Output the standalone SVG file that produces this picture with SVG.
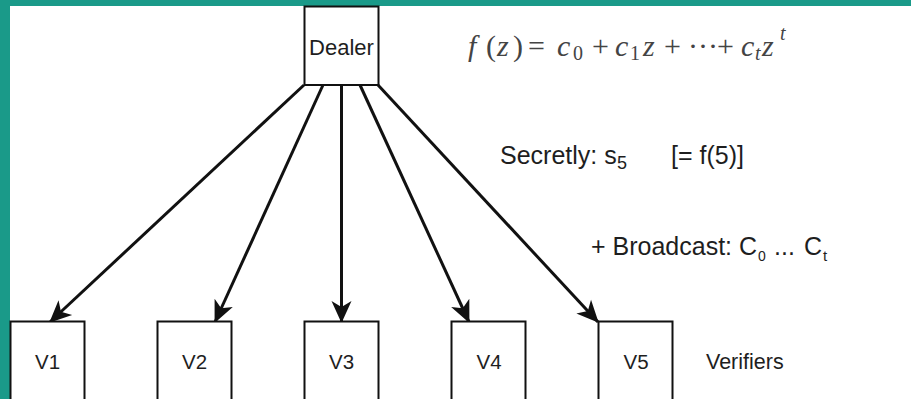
<svg xmlns="http://www.w3.org/2000/svg" width="911" height="399" viewBox="0 0 911 399">
  <style>
    .box { fill: #ffffff; stroke: #111111; stroke-width: 2; }
    .lbl { font-family: "Liberation Sans", Arial, sans-serif; fill: #1e1e1e; }
    .edge { stroke: #111111; stroke-width: 3; fill: none; marker-end: url(#arrow); }
    .math { font-family: "Liberation Serif", "Times New Roman", serif; fill: #444444; font-size: 30px; }
    .it { font-style: italic; }
    .sub { font-size: 20px; }
  </style>
  <defs>
    <marker id="arrow" markerUnits="userSpaceOnUse" viewBox="0 0 22 22" refX="21" refY="11" markerWidth="22" markerHeight="22" orient="auto">
      <path d="M0,1 L22,11 L0,21 L6,11 Z" fill="#111111"/>
    </marker>
  </defs>
  <rect x="0" y="0" width="911" height="399" fill="#ffffff"/>
  <rect x="0" y="0" width="911" height="6" fill="#1a9a89"/>
  <rect x="0" y="0" width="10" height="399" fill="#1a9a89"/>

  <g id="connectors">
    <line class="edge" x1="304" y1="85" x2="50" y2="322"/>
    <line class="edge" x1="323" y1="85" x2="215" y2="322"/>
    <line class="edge" x1="341.5" y1="85" x2="341.5" y2="322"/>
    <line class="edge" x1="360" y1="85" x2="469" y2="322"/>
    <line class="edge" x1="378" y1="85" x2="598" y2="322"/>
  </g>

  <g id="dealer">
    <rect class="box" x="304.5" y="6.5" width="74" height="78.5"/>
    <text class="lbl" x="341.5" y="55" font-size="22" text-anchor="middle">Dealer</text>
  </g>
  <g id="v1">
    <rect class="box" x="10.5" y="321.5" width="74" height="90"/>
    <text class="lbl" x="47.5" y="369" font-size="20.5" text-anchor="middle">V1</text>
  </g>
  <g id="v2">
    <rect class="box" x="157.5" y="321.5" width="74" height="90"/>
    <text class="lbl" x="194.5" y="369" font-size="20.5" text-anchor="middle">V2</text>
  </g>
  <g id="v3">
    <rect class="box" x="304.5" y="321.5" width="74" height="90"/>
    <text class="lbl" x="341.5" y="369" font-size="20.5" text-anchor="middle">V3</text>
  </g>
  <g id="v4">
    <rect class="box" x="451.5" y="321.5" width="74" height="90"/>
    <text class="lbl" x="489" y="369" font-size="20.5" text-anchor="middle">V4</text>
  </g>
  <g id="v5">
    <rect class="box" x="598.5" y="321.5" width="74" height="90"/>
    <text class="lbl" x="636" y="369" font-size="20.5" text-anchor="middle">V5</text>
  </g>
  <g id="verifiers">
    <text class="lbl" x="706" y="369" font-size="21.5">Verifiers</text>
  </g>

  <g id="formula">
    <text class="math" y="56"><tspan x="468" class="it">f</tspan><tspan x="486">(</tspan><tspan x="497" class="it">z</tspan><tspan x="513">)</tspan><tspan x="528">=</tspan><tspan x="557" class="it">c</tspan><tspan x="573" y="60" class="sub">0</tspan><tspan x="592" y="56">+</tspan><tspan x="615" class="it">c</tspan><tspan x="630" y="60" class="sub">1</tspan><tspan x="643" y="56" class="it">z</tspan><tspan x="664">+</tspan><tspan x="688">···</tspan><tspan x="717">+</tspan><tspan x="741" class="it">c</tspan><tspan x="755" y="60" class="sub it">t</tspan><tspan x="762" y="56" class="it">z</tspan><tspan x="780" y="40" class="sub it">t</tspan></text>
  </g>

  <g id="secretly">
    <text class="lbl" y="164" font-size="25"><tspan x="500">Secretly: s</tspan><tspan x="617" y="168.5" font-size="18">5</tspan><tspan x="671" y="164">[= f(5)]</tspan></text>
  </g>
  <g id="broadcast">
    <text class="lbl" y="255" font-size="25"><tspan x="591">+ Broadcast:</tspan><tspan x="739">C</tspan><tspan x="758" y="261" font-size="14">0</tspan><tspan x="774" y="255">...</tspan><tspan x="804">C</tspan><tspan x="823" y="261" font-size="15">t</tspan></text>
  </g>
</svg>
